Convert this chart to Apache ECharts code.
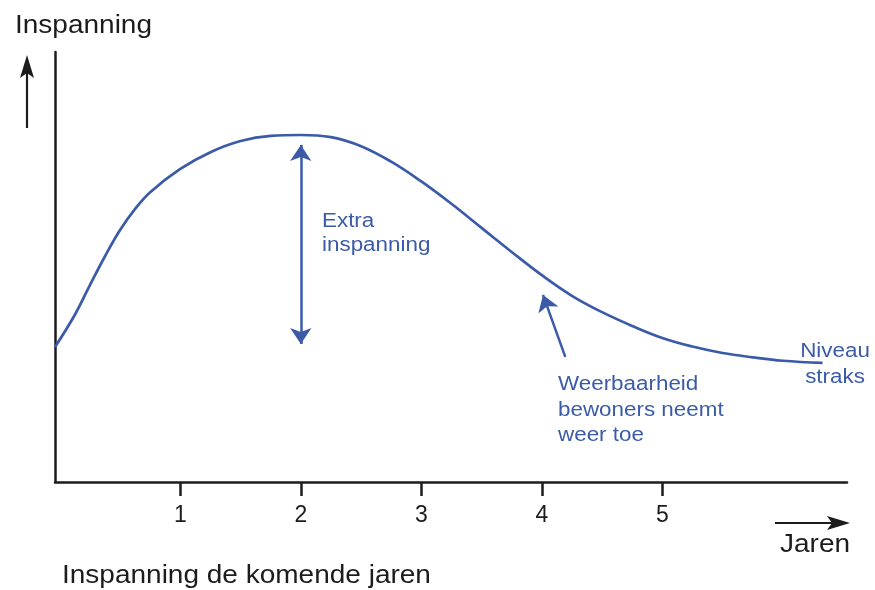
<!DOCTYPE html>
<html>
<head>
<meta charset="utf-8">
<script src="https://cdn.jsdelivr.net/npm/echarts@6/dist/echarts.min.js"></script>
<style>
html,body{margin:0;padding:0;background:#fff;}
#chart{width:875px;height:590px;}
</style>
</head>
<body>
<div id="chart"></div>
<script>
// ---- data ----
const years = [-0.04, 0.125, 0.25, 0.375, 0.5, 0.625, 0.75, 1, 1.25, 1.5, 1.75, 2, 2.25, 2.5, 2.75, 3, 3.25, 3.5, 3.75, 4, 4.25, 4.5, 4.75, 5, 5.25, 5.5, 5.75, 6, 6.33];
const effort = [3.14, 3.89, 4.58, 5.25, 5.86, 6.35, 6.74, 7.28, 7.67, 7.93, 8.05, 8.07, 8.02, 7.81, 7.45, 6.99, 6.47, 5.91, 5.35, 4.81, 4.33, 3.95, 3.63, 3.35, 3.15, 3.00, 2.90, 2.82, 2.77];
const tickValues = [1, 2, 3, 4, 5];
const extraArrow = [[2, 7.84], [2, 3.21]];            // double arrow (year, level)
const resilienceArrow = [[4.195, 2.91], [4.01, 4.35]]; // tail -> tip

const BLUE = '#3b5ba9';
const INK = '#1c1c1c';
const FONT = '"Liberation Sans", Arial, Helvetica, sans-serif';
const SX = 1.12;

function txt(x, y, text, size, color, align) {
  return {
    type: 'text', x: x, y: y, scaleX: SX, silent: true,
    style: { x: 0, y: 0, text: text, fill: color, font: size + 'px ' + FONT,
             textAlign: align || 'left', textVerticalAlign: 'middle' }
  };
}

const chart = echarts.init(document.getElementById('chart'), null, { renderer: 'canvas' });
chart.setOption({
  animation: false,
  backgroundColor: '#ffffff',
  grid: { left: 55, right: 28, top: 52, bottom: 108, containLabel: false },
  xAxis: {
    type: 'value', min: -0.04, max: 6.533,
    axisLine: { show: true, onZero: false, lineStyle: { color: INK, width: 2.5 } },
    axisTick: { show: true, customValues: tickValues, length: 14, lineStyle: { color: INK, width: 2.5 } },
    axisLabel: { show: true, customValues: tickValues, color: INK, fontSize: 23, fontFamily: FONT, margin: 22 },
    splitLine: { show: false }
  },
  yAxis: {
    type: 'value', min: 0, max: 10,
    axisLine: { show: true, onZero: false, lineStyle: { color: INK, width: 2.5 } },
    axisTick: { show: false }, axisLabel: { show: false }, splitLine: { show: false }
  },
  series: [{
    type: 'line',
    data: years.map((x, i) => [x, effort[i]]),
    smooth: 0.4,
    showSymbol: false,
    silent: true,
    lineStyle: { color: BLUE, width: 2.7 },
    markLine: {
      silent: true,
      symbolSize: 16,
      label: { show: false },
      lineStyle: { color: BLUE, width: 2.5, type: 'solid' },
      emphasis: { disabled: true },
      data: [
        [ { coord: extraArrow[0], symbol: 'arrow' }, { coord: extraArrow[1], symbol: 'arrow' } ],
        [ { coord: resilienceArrow[0], symbol: 'none' }, { coord: resilienceArrow[1], symbol: 'arrow' } ]
      ]
    }
  }],
  graphic: [
    txt(15, 26, 'Inspanning', 25, INK),
    { type: 'line', silent: true, shape: { x1: 27, y1: 128, x2: 27, y2: 70 }, style: { stroke: INK, lineWidth: 2.2 } },
    { type: 'polygon', silent: true, shape: { points: [[27, 55], [34, 78], [27, 73], [20, 78]] }, style: { fill: INK } },
    { type: 'line', silent: true, shape: { x1: 775, y1: 523, x2: 835, y2: 523 }, style: { stroke: INK, lineWidth: 2.2 } },
    { type: 'polygon', silent: true, shape: { points: [[850, 523], [827, 516], [832, 523], [827, 530]] }, style: { fill: INK } },
    txt(780, 545, 'Jaren', 25, INK),
    txt(62, 576, 'Inspanning de komende jaren', 25, INK),
    txt(322, 221, 'Extra', 20, BLUE),
    txt(322, 245, 'inspanning', 20, BLUE),
    txt(558, 384, 'Weerbaarheid', 20, BLUE),
    txt(558, 410, 'bewoners neemt', 20, BLUE),
    txt(558, 435, 'weer toe', 20, BLUE),
    txt(835, 351, 'Niveau', 20, BLUE, 'center'),
    txt(835, 377, 'straks', 20, BLUE, 'center')
  ]
});
</script>
</body>
</html>
